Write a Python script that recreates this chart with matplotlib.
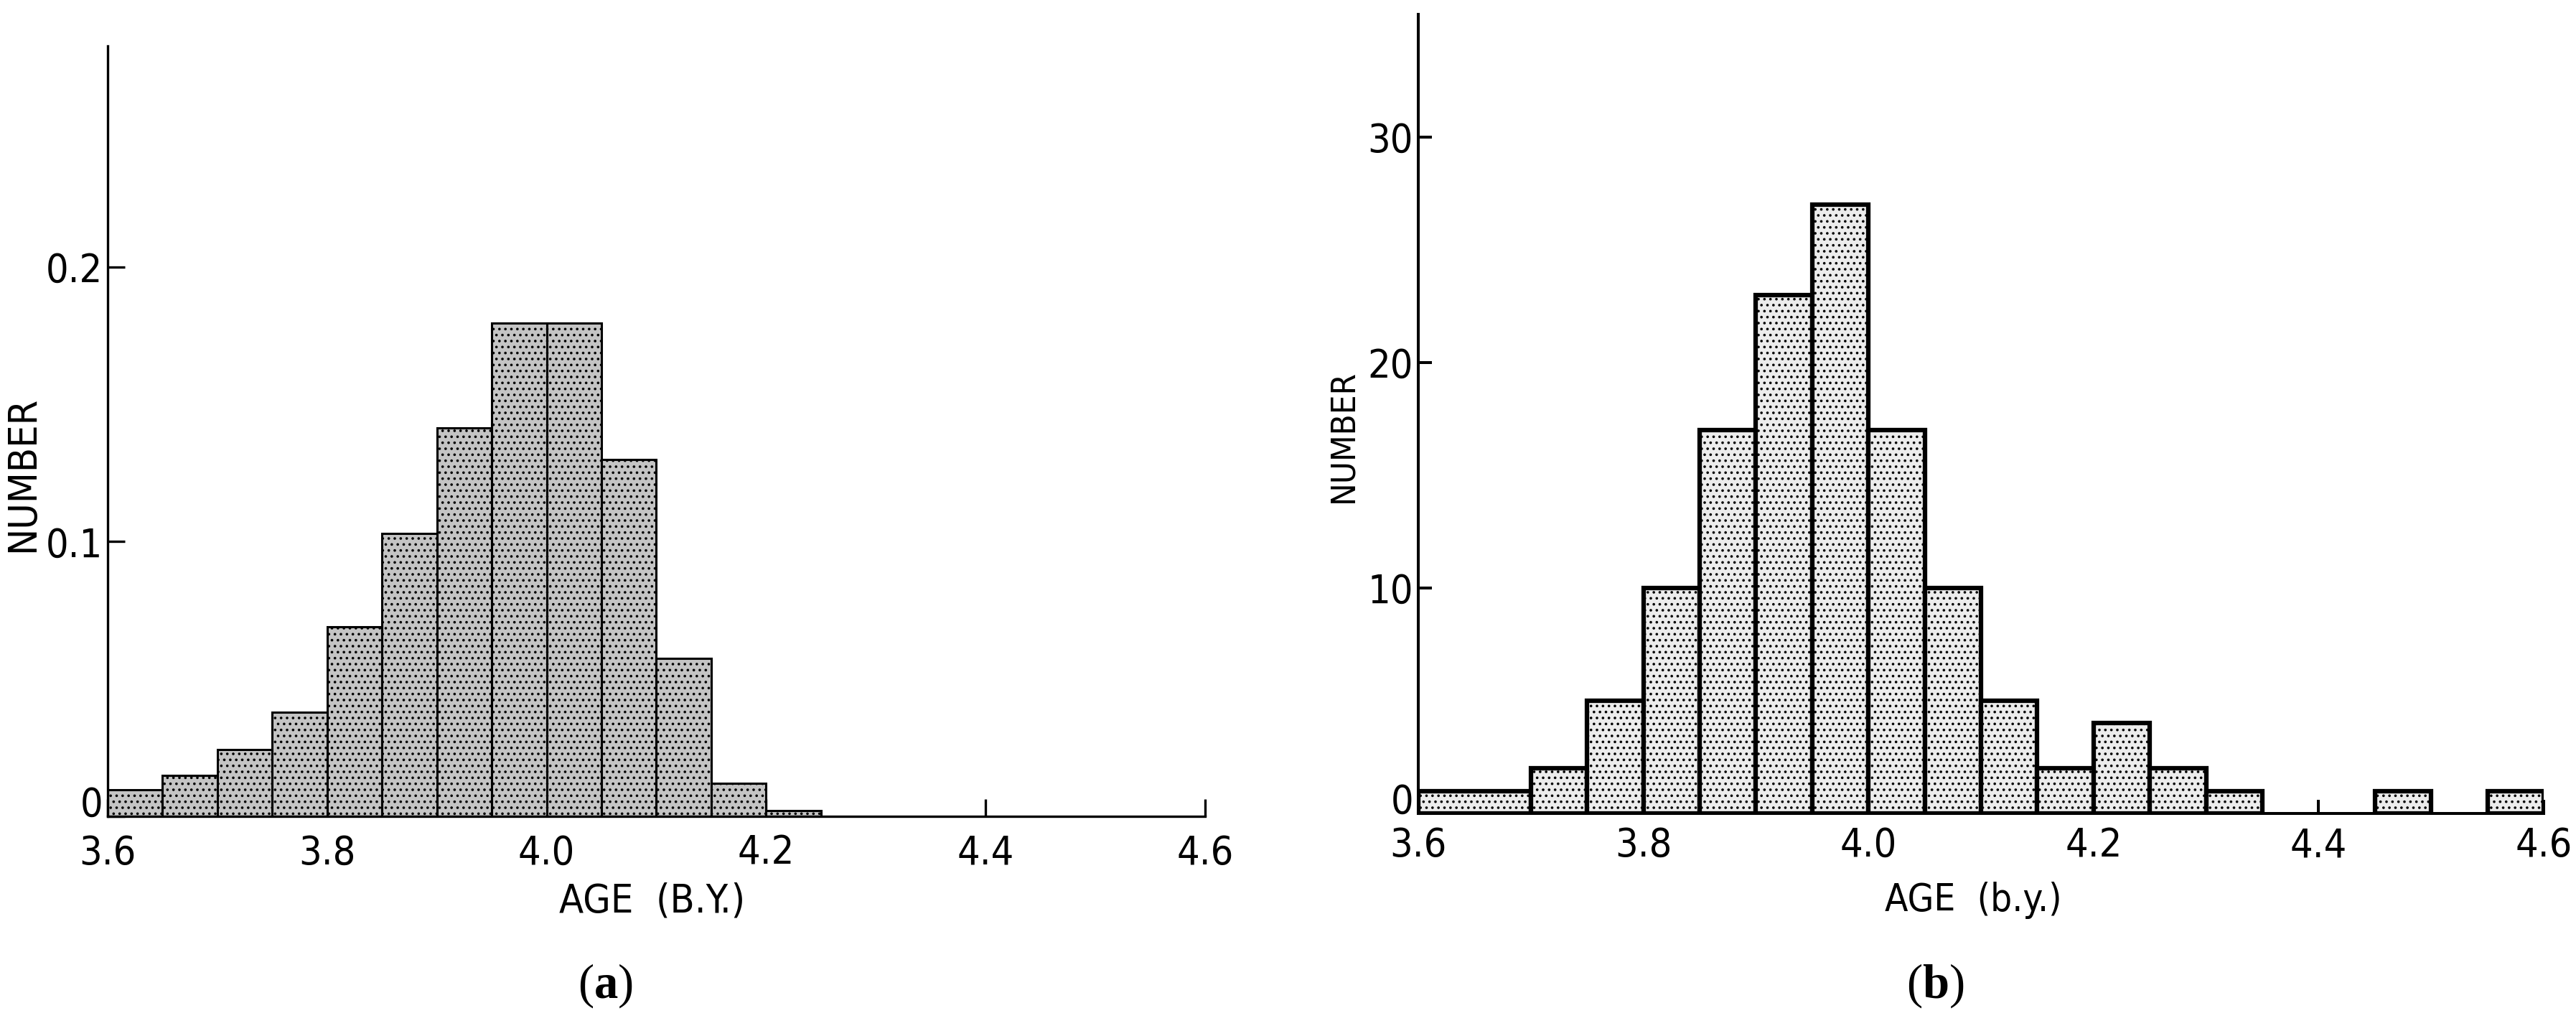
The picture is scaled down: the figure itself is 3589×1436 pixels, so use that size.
import numpy as np
import matplotlib
matplotlib.use("Agg")
import matplotlib.pyplot as plt

# narrow lettering if a condensed face is around, else plain DejaVu
plt.rcParams['font.family'] = ['DejaVu Sans']
plt.rcParams['font.stretch'] = 'condensed'
plt.rcParams['mathtext.fontset'] = 'custom'
plt.rcParams['mathtext.rm'] = 'Liberation Serif'
plt.rcParams['mathtext.bf'] = 'Liberation Serif:bold'
plt.rcParams['hatch.linewidth'] = 1.4

# panel (a): model age distribution, 0.05 b.y. bins
edges_a = [3.60, 3.65, 3.70, 3.75, 3.80, 3.85, 3.90, 3.95, 4.00, 4.05, 4.10, 4.15, 4.20, 4.25]
number_a = [0.0097, 0.0149, 0.0242, 0.038, 0.069, 0.103, 0.1415, 0.1795, 0.1795, 0.130, 0.0574, 0.012, 0.002]

# panel (b): measured ages, counts
edges_b = [3.60, 3.70, 3.75, 3.80, 3.85, 3.90, 3.95, 4.00, 4.05, 4.10, 4.15, 4.20, 4.25,
           4.30, 4.35, 4.45, 4.50, 4.55, 4.60]
number_b = [1, 2, 5, 10, 17, 23, 27, 17, 10, 5, 2, 4, 2, 1, 0, 1, 0, 1]

xticks = [3.6, 3.8, 4.0, 4.2, 4.4, 4.6]
xtick_labels = ['3.6', '3.8', '4.0', '4.2', '4.4', '4.6']
yticks_a = [0, 0.1, 0.2]
ytick_labels_a = ['0', '0.1', '0.2']
yticks_b = [0, 10, 20, 30]
ytick_labels_b = ['0', '10', '20', '30']

W, H = 3589, 1436
fig = plt.figure(figsize=(W / 100, H / 100), dpi=100)


def draw_hist(ax, edges, counts, face, lw):
    edges = np.array(edges)
    counts = np.array(counts, dtype=float)
    keep = counts > 0
    ax.bar(edges[:-1][keep], counts[keep], width=np.diff(edges)[keep], align='edge',
           facecolor=face, edgecolor='black', hatch='..', linewidth=lw, zorder=2)


def style_axes(ax, ylim, yticks, ylabels, spine_w, tick_len, xpad, size):
    ax.set_xlim(3.6, 4.6)
    ax.set_ylim(*ylim)
    for s in ['top', 'right']:
        ax.spines[s].set_visible(False)
    for s in ['left', 'bottom']:
        ax.spines[s].set_linewidth(spine_w)
        ax.spines[s].set_zorder(3)
    ax.set_xticks(xticks)
    ax.set_xticklabels(xtick_labels)
    ax.set_yticks(yticks)
    ax.set_yticklabels(ylabels)
    ax.tick_params(direction='in', length=tick_len, width=spine_w, labelsize=size)
    ax.tick_params(axis='x', pad=xpad)
    ax.tick_params(axis='y', pad=5)
    # the zero sits on the baseline rather than centred on it
    ax.get_yticklabels()[0].set_va('baseline')


# (a)
ax_a = fig.add_axes([150 / W, 1 - 1137 / H, (1679 - 150) / W, (1137 - 64) / H])
draw_hist(ax_a, edges_a, number_a, '#c4c4c4', 2.2)
style_axes(ax_a, (0, 0.2805), yticks_a, ytick_labels_a, 2.4, 17, 18, 40)

# (b)
ax_b = fig.add_axes([1976 / W, 1 - 1133 / H, (3544 - 1976) / W, (1133 - 20) / H])
draw_hist(ax_b, edges_b, number_b, '#ececec', 4.5)
style_axes(ax_b, (0, 35.45), yticks_b, ytick_labels_b, 2.9, 14, 13, 40)

# axis titles and panel letters
fig.text(909 / W, 1 - 1255 / H, 'AGE  (B.Y.)', fontsize=40, ha='center', va='center')
fig.text(32 / W, 1 - 660 / H, 'NUMBER', fontsize=40, rotation=90, ha='center', va='center')
fig.text(2749 / W, 1 - 1254 / H, 'AGE  (b.y.)', fontsize=38, ha='center', va='center')
fig.text(1872 / W, 1 - 607 / H, 'NUMBER', fontsize=34, rotation=90, ha='center', va='center')

fig.text(843 / W, 1 - 1373 / H, r'$\mathrm{(}\mathbf{a}\mathrm{)}$', fontsize=48, ha='center', va='center')
fig.text(2696 / W, 1 - 1373 / H, r'$\mathrm{(}\mathbf{b}\mathrm{)}$', fontsize=48, ha='center', va='center')

fig.savefig('out.png', dpi=100)
